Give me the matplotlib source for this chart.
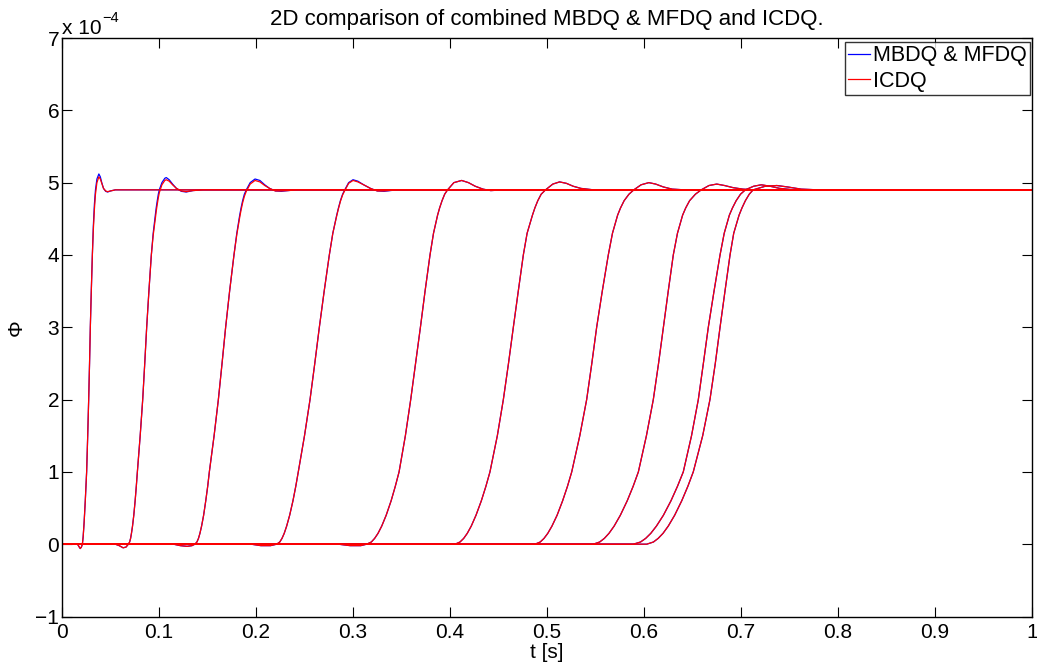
#!/usr/bin/env python3
"""2D comparison of the combined MBDQ & MFDQ response against ICDQ.

Each run is a step in Phi (in units of 1e-4) triggered at a different time;
both solvers are drawn on top of each other.
"""

import matplotlib
matplotlib.use("Agg")
import matplotlib.pyplot as plt

plt.rcParams["font.family"] = ["Liberation Sans", "DejaVu Sans"]

# ---------------------------------------------------------------------------
# Data: Phi [x 1e-4] vs t [s], one list per run
# ---------------------------------------------------------------------------

T_END = 1.0
PHI_FINAL = 4.9

run_t = [
    [0.0, 0.016, 0.0178, 0.0188, 0.0200, 0.0210, 0.0218, 0.0228, 0.0240, 0.0254,
     0.0265, 0.0275, 0.0284, 0.0292, 0.0302, 0.0313, 0.0323, 0.0334, 0.0345,
     0.0360, 0.0380, 0.0395, 0.0410, 0.0428, 0.0450, 0.0470, 0.0500, 0.0550],
    [0.0, 0.055, 0.059, 0.063, 0.066, 0.0684, 0.0697, 0.0707, 0.0716, 0.0727,
     0.0740, 0.0754, 0.0766, 0.0777, 0.0806, 0.0832, 0.0853, 0.0873, 0.0896,
     0.0921, 0.0940, 0.0962, 0.0971, 0.0982, 0.0993, 0.1003, 0.1030, 0.1060,
     0.1075, 0.1105, 0.1140, 0.1180, 0.1230, 0.1280, 0.1350, 0.1450],
    [0.0, 0.115, 0.122, 0.129, 0.134, 0.137, 0.1391, 0.1407, 0.1422, 0.1439,
     0.1460, 0.1482, 0.1502, 0.1519, 0.1568, 0.1612, 0.1650, 0.1687, 0.1728,
     0.1773, 0.1802, 0.1832, 0.1846, 0.1862, 0.1880, 0.1900, 0.1940, 0.1990,
     0.2040, 0.2090, 0.2140, 0.2200, 0.2260, 0.2330, 0.2420],
    [0.0, 0.195, 0.205, 0.215, 0.2213, 0.2245, 0.2268, 0.2291, 0.2316, 0.2347,
     0.2381, 0.2410, 0.2436, 0.2500, 0.2557, 0.2606, 0.2653, 0.2703, 0.2756,
     0.2792, 0.2832, 0.2850, 0.2870, 0.2893, 0.2915, 0.2955, 0.3000, 0.3050,
     0.3110, 0.3180, 0.3250, 0.3320, 0.3450],
    [0.0, 0.285, 0.297, 0.308, 0.3141, 0.3189, 0.3223, 0.3258, 0.3296, 0.3342,
     0.3393, 0.3436, 0.3475, 0.3540, 0.3595, 0.3645, 0.3695, 0.3743, 0.3794,
     0.3830, 0.3872, 0.3893, 0.3918, 0.3945, 0.3975, 0.4040, 0.4120, 0.4190,
     0.4260, 0.4340, 0.4420, 0.4550],
    [0.0, 0.390, 0.4052, 0.4103, 0.4141, 0.4178, 0.4219, 0.4268, 0.4323, 0.4370,
     0.4412, 0.4488, 0.4550, 0.4603, 0.4653, 0.4704, 0.4756, 0.4795, 0.4850,
     0.4875, 0.4905, 0.4940, 0.4985, 0.5060, 0.5130, 0.5200, 0.5270, 0.5350,
     0.5480],
    [0.0, 0.470, 0.4876, 0.4930, 0.4969, 0.5008, 0.5051, 0.5104, 0.5161, 0.5211,
     0.5255, 0.5338, 0.5409, 0.5462, 0.5512, 0.5570, 0.5632, 0.5675, 0.5728,
     0.5758, 0.5795, 0.5845, 0.5895, 0.5970, 0.6050, 0.6120, 0.6200, 0.6290,
     0.6420],
    [0.0, 0.530, 0.5477, 0.5543, 0.5591, 0.5639, 0.5692, 0.5756, 0.5827, 0.5888,
     0.5942, 0.6025, 0.6096, 0.6150, 0.6200, 0.6250, 0.6302, 0.6345, 0.6398,
     0.6430, 0.6470, 0.6530, 0.6590, 0.6670, 0.6750, 0.6830, 0.6920, 0.7020,
     0.7150],
    [0.0, 0.570, 0.5890, 0.5964, 0.6017, 0.6070, 0.6128, 0.6200, 0.6278, 0.6345,
     0.6405, 0.6490, 0.6560, 0.6612, 0.6663, 0.6722, 0.6784, 0.6827, 0.6880,
     0.6912, 0.6950, 0.6995, 0.7045, 0.7130, 0.7210, 0.7300, 0.7400, 0.7550],
    [0.0, 0.585, 0.6028, 0.6097, 0.6146, 0.6196, 0.6250, 0.6316, 0.6389, 0.6452,
     0.6508, 0.6605, 0.6680, 0.6735, 0.6784, 0.6835, 0.6887, 0.6925, 0.6980,
     0.7010, 0.7045, 0.7085, 0.7125, 0.7250, 0.7370, 0.7480, 0.7620, 0.7800],
]

phi_mbdq = [
    [0.0, 0.0, -0.04, -0.06, -0.04, 0.0, 0.1, 0.3, 0.6, 1.0,
     1.5, 2.0, 2.5, 3.0, 3.5, 4.0, 4.4, 4.7, 4.9,
     5.05, 5.12, 5.08, 5.0, 4.92, 4.88, 4.87, 4.885, 4.9],
    [0.0, 0.0, -0.02, -0.05, -0.04, 0.0, 0.03, 0.08, 0.15, 0.25,
     0.4, 0.6, 0.8, 1.0, 1.5, 2.0, 2.5, 3.0, 3.5,
     4.0, 4.3, 4.55, 4.65, 4.75, 4.84, 4.9, 5.0, 5.06,
     5.07, 5.04, 4.98, 4.92, 4.88, 4.87, 4.89, 4.9],
    [0.0, 0.0, -0.02, -0.03, -0.02, 0.0, 0.03, 0.08, 0.15, 0.25,
     0.4, 0.6, 0.8, 1.0, 1.5, 2.0, 2.5, 3.0, 3.5,
     4.0, 4.3, 4.55, 4.65, 4.75, 4.84, 4.9, 5.0, 5.05,
     5.03, 4.97, 4.92, 4.885, 4.88, 4.89, 4.9],
    [0.0, 0.0, -0.02, -0.02, 0.0, 0.03, 0.08, 0.15, 0.25, 0.4,
     0.6, 0.8, 1.0, 1.5, 2.0, 2.5, 3.0, 3.5, 4.0,
     4.3, 4.55, 4.65, 4.75, 4.84, 4.9, 5.0, 5.04, 5.02,
     4.97, 4.92, 4.885, 4.88, 4.9],
    [0.0, 0.0, -0.02, -0.02, 0.0, 0.03, 0.08, 0.15, 0.25, 0.4,
     0.6, 0.8, 1.0, 1.5, 2.0, 2.5, 3.0, 3.5, 4.0,
     4.3, 4.55, 4.65, 4.75, 4.84, 4.9, 5.0, 5.03, 5.0,
     4.95, 4.91, 4.89, 4.9],
    [0.0, 0.0, 0.0, 0.03, 0.08, 0.15, 0.25, 0.4, 0.6, 0.8,
     1.0, 1.5, 2.0, 2.5, 3.0, 3.5, 4.0, 4.3, 4.55,
     4.65, 4.75, 4.84, 4.9, 4.98, 5.01, 4.99, 4.95, 4.92,
     4.9],
    [0.0, 0.0, 0.0, 0.03, 0.08, 0.15, 0.25, 0.4, 0.6, 0.8,
     1.0, 1.5, 2.0, 2.5, 3.0, 3.5, 4.0, 4.3, 4.55,
     4.65, 4.75, 4.84, 4.9, 4.97, 5.0, 4.98, 4.94, 4.91,
     4.9],
    [0.0, 0.0, 0.0, 0.03, 0.08, 0.15, 0.25, 0.4, 0.6, 0.8,
     1.0, 1.5, 2.0, 2.5, 3.0, 3.5, 4.0, 4.3, 4.55,
     4.65, 4.75, 4.84, 4.9, 4.96, 4.98, 4.96, 4.93, 4.91,
     4.9],
    [0.0, 0.0, 0.0, 0.03, 0.08, 0.15, 0.25, 0.4, 0.6, 0.8,
     1.0, 1.5, 2.0, 2.5, 3.0, 3.5, 4.0, 4.3, 4.55,
     4.65, 4.75, 4.84, 4.9, 4.95, 4.97, 4.95, 4.92, 4.9],
    [0.0, 0.0, 0.0, 0.03, 0.08, 0.15, 0.25, 0.4, 0.6, 0.8,
     1.0, 1.5, 2.0, 2.5, 3.0, 3.5, 4.0, 4.3, 4.55,
     4.65, 4.75, 4.84, 4.9, 4.95, 4.96, 4.94, 4.91, 4.9],
]

# ICDQ follows MBDQ & MFDQ closely; the overshoot is a touch smaller on the
# early runs and identical afterwards
phi_icdq = [
    [0.0, 0.0, -0.04, -0.06, -0.04, 0.0, 0.1, 0.3, 0.6, 1.0,
     1.5, 2.0, 2.5, 3.0, 3.5, 4.0, 4.35, 4.63, 4.84,
     5.0, 5.08, 5.05, 4.99, 4.92, 4.885, 4.875, 4.885, 4.9],
    [0.0, 0.0, -0.02, -0.05, -0.04, 0.0, 0.03, 0.08, 0.15, 0.25,
     0.4, 0.6, 0.8, 1.0, 1.5, 2.0, 2.5, 3.0, 3.5,
     4.0, 4.27, 4.5, 4.6, 4.7, 4.79, 4.86, 4.97, 5.03,
     5.04, 5.02, 4.97, 4.92, 4.885, 4.875, 4.89, 4.9],
    [0.0, 0.0, -0.02, -0.03, -0.02, 0.0, 0.03, 0.08, 0.15, 0.25,
     0.4, 0.6, 0.8, 1.0, 1.5, 2.0, 2.5, 3.0, 3.5,
     4.0, 4.28, 4.52, 4.62, 4.72, 4.81, 4.88, 4.98, 5.03,
     5.01, 4.96, 4.92, 4.885, 4.885, 4.89, 4.9],
    [0.0, 0.0, -0.02, -0.02, 0.0, 0.03, 0.08, 0.15, 0.25, 0.4,
     0.6, 0.8, 1.0, 1.5, 2.0, 2.5, 3.0, 3.5, 4.0,
     4.3, 4.54, 4.64, 4.74, 4.83, 4.89, 4.99, 5.03, 5.01,
     4.97, 4.92, 4.885, 4.885, 4.9],
    *phi_mbdq[4:],
]

X_TICKS = [0, 0.1, 0.2, 0.3, 0.4, 0.5, 0.6, 0.7, 0.8, 0.9, 1]
X_TICKLABELS = ["0", "0.1", "0.2", "0.3", "0.4", "0.5", "0.6", "0.7", "0.8", "0.9", "1"]
Y_TICKS = [-1, 0, 1, 2, 3, 4, 5, 6, 7]

FS = 15


def main():
    W, H = 1037, 666
    fig = plt.figure(figsize=(W / 100, H / 100), dpi=100)
    ax = fig.add_axes([62 / W, (H - 616.5) / H, 970 / W, 578.5 / H])

    lines = {}
    for series, colour, label in ((phi_mbdq, "#0000ff", "MBDQ & MFDQ"),
                                  (phi_icdq, "#ff0000", "ICDQ")):
        for t, phi in zip(run_t, series):
            # every run holds its final value until the end of the simulation
            (ln,) = ax.plot(list(t) + [T_END], list(phi) + [PHI_FINAL],
                            color=colour, lw=0.9, solid_joinstyle="round")
        lines[label] = ln

    ax.set_xlim(0, 1)
    ax.set_ylim(-1, 7)
    ax.set_xticks(X_TICKS)
    ax.set_xticklabels(X_TICKLABELS)
    ax.set_yticks(Y_TICKS)
    ax.tick_params(direction="in", length=7, width=0.8, labelsize=FS,
                   top=True, right=True, colors="black")
    ax.tick_params(axis="x", pad=4.5)
    ax.tick_params(axis="y", pad=2)
    for sp in ax.spines.values():
        sp.set_linewidth(1.0)

    ax.set_xlabel("t [s]", fontsize=FS, labelpad=1)
    ax.set_ylabel("Φ", fontsize=FS, labelpad=7)
    ax.set_title("2D comparison of combined MBDQ & MFDQ and ICDQ.",
                 fontsize=16, pad=9)

    # y scale multiplier, drawn above the axis in the corner
    ax.text(0.0, 1.0, "x 10", transform=ax.transAxes, fontsize=FS,
            ha="left", va="bottom")
    ax.text(0.042, 1.022, "\u22124", transform=ax.transAxes, fontsize=10.5,
            ha="left", va="bottom")

    leg = ax.legend([lines["MBDQ & MFDQ"], lines["ICDQ"]],
                    ["MBDQ & MFDQ", "ICDQ"],
                    loc="upper right", bbox_to_anchor=(0.998, 0.993),
                    fontsize=15.5, frameon=True, fancybox=False,
                    handlelength=1.0, handletextpad=0.15,
                    borderpad=0.15, labelspacing=0.2, borderaxespad=0.0)
    leg.get_frame().set_edgecolor("black")
    leg.get_frame().set_linewidth(1.0)

    fig.savefig("out.png", dpi=100)
    plt.close(fig)


if __name__ == "__main__":
    main()
